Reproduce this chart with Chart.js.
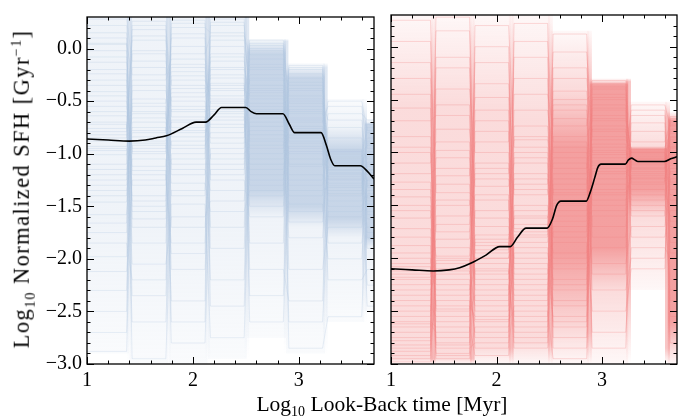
<!DOCTYPE html>
<html><head><meta charset="utf-8">
<script src="https://cdn.jsdelivr.net/npm/chart.js@4.4.1/dist/chart.umd.min.js"></script>
<style>
html,body{margin:0;padding:0;background:#fff;}
#wrap{position:relative;width:678px;height:416px;overflow:hidden;font-family:"Liberation Serif",serif;color:#000;}
canvas{position:absolute;top:0;}
#cL{left:0;} #cR{left:380px;}
.lab{position:absolute;white-space:nowrap;line-height:1;}
.lab sub,.lab sup{font-size:14px;line-height:0;}
#xlab{left:382px;top:394px;transform:translateX(-50%);font-size:21.5px;}
#ylab{left:22px;top:189px;transform:translate(-50%,-50%) rotate(-90deg);font-size:22.5px;letter-spacing:1.4px;}
</style></head>
<body><div id="wrap">
<canvas id="cL" width="380" height="416"></canvas>
<canvas id="cR" width="298" height="416"></canvas>
<div id="xlab" class="lab">Log<sub>10</sub> Look-Back time [Myr]</div>
<div id="ylab" class="lab">Log<sub>10</sub> Normalized SFH [Gyr<sup>−1</sup>]</div>
</div>
<script>
// ---------- data ----------
const binEdges = [1.0, 1.40, 1.77, 2.14, 2.51, 2.88, 3.25, 3.62, 3.71];

const xTickValues = [1, 2, 3];
const xTickLabels = ['1', '2', '3'];
const yTickValues = [-3.0, -2.5, -2.0, -1.5, -1.0, -0.5, 0.0];
const yTickLabels = ['−3.0', '−2.5', '−2.0', '−1.5', '−1.0', '−0.5', '0.0'];
const xMinorTicks = [1.2, 1.4, 1.6, 1.8, 2.2, 2.4, 2.6, 2.8, 3.2, 3.4, 3.6];
const yMinorTicks = [-2.9, -2.8, -2.7, -2.6, -2.4, -2.3, -2.2, -2.1, -1.9, -1.8, -1.7, -1.6,
  -1.4, -1.3, -1.2, -1.1, -0.9, -0.8, -0.7, -0.6, -0.4, -0.3, -0.2, -0.1, 0.1, 0.2];

// medians
const blueMedX = [1.00, 1.20, 1.40, 1.55, 1.65, 1.75, 1.90, 2.03, 2.12, 2.20, 2.27, 2.50, 2.55, 2.60, 2.85, 2.91, 2.96, 3.21, 3.26, 3.30, 3.34, 3.58, 3.65, 3.71];
const blueMedY = [-0.86, -0.87, -0.88, -0.87, -0.85, -0.83, -0.76, -0.70, -0.70, -0.63, -0.56, -0.56, -0.60, -0.62, -0.62, -0.72, -0.80, -0.80, -0.92, -1.05, -1.115, -1.115, -1.17, -1.24];
const redMedX = [1.00, 1.20, 1.40, 1.55, 1.65, 1.75, 1.90, 2.03, 2.13, 2.20, 2.28, 2.48, 2.53, 2.57, 2.61, 2.85, 2.89, 2.93, 2.96, 2.99, 3.22, 3.25, 3.28, 3.31, 3.34, 3.59, 3.65, 3.71];
const redMedY = [-2.10, -2.11, -2.12, -2.11, -2.09, -2.05, -1.97, -1.89, -1.89, -1.80, -1.715, -1.715, -1.63, -1.50, -1.46, -1.46, -1.37, -1.24, -1.14, -1.11, -1.11, -1.07, -1.053, -1.07, -1.085, -1.085, -1.06, -1.04];

// per-bin density envelopes
const blueOuterTop = [0.30, 0.30, 0.30, 0.30, 0.09, -0.14, -0.48, -0.67];
const blueCoreTop  = [0.30, 0.30, 0.30, 0.30, 0.07, -0.18, -0.75, -0.70];
const blueHeavyTop = [null, null, null, null, -0.05, -0.28, -0.96, -0.72];
const blueHeavyBot = [null, null, null, null, -1.35, -1.50, -1.62, -1.80];
const blueCoreBot  = [-1.60, -1.65, -1.65, -1.65, -1.60, -1.70, -1.80, -1.90];
const blueOuterBot = [-2.90, -3.00, -3.00, -2.95, -2.75, -2.90, -2.60, -2.50];

const redOuterTop = [0.30, 0.30, 0.30, 0.30, 0.15, -0.30, -0.52, -0.62];
const redCoreTop  = [-0.55, -0.55, -0.60, -0.70, -0.40, -0.33, -0.95, -0.66];
const redHeavyTop = [null, null, null, null, -0.95, -0.36, -0.97, -0.70];
const redHeavyBot = [null, null, null, null, -1.95, -1.90, -1.35, -2.60];
const redCoreBot  = [-2.95, -2.95, -2.85, -2.80, -2.70, -2.30, -1.60, -2.85];
const redOuterBot = [-3.00, -3.00, -3.00, -3.00, -3.00, -3.00, -2.30, -3.00];

// individual SFH draws: value of every draw in each time bin (index = draw)
const blueBins = [
  [0.22, -1.10, -0.45, -2.30, -0.70, 0.05, -1.35, -0.88, -0.20, -1.58, 0.28, -0.95, -0.60, -1.98, -0.30, -1.20,
   -0.79, 0.15, -1.46, -0.50, -2.70, -0.13, -1.01, -0.64, -1.75, -0.35, 0.10, -1.25, -0.85, -2.12, -0.41, -0.93,
   -0.08, -1.66, -0.72, -1.15, 0.04, -2.50, -0.55, -1.30, -0.24, -0.97, -1.85, -0.76, -0.02, -1.40, -2.88, -0.82],
  [-0.60, 0.18, -1.30, -0.90, -2.05, -0.25, -1.05, 0.26, -1.50, -0.70, -0.12, -2.60, -0.95, -0.40, -1.20, -0.80,
   0.08, -1.70, -0.55, -1.12, -0.30, -2.95, -0.84, -1.40, -0.05, -0.98, -1.62, -0.48, 0.12, -1.25, -2.35, -0.66,
   -1.00, -0.18, -1.85, -0.75, -1.45, 0.22, -0.88, -0.35, -1.55, -0.62, -2.20, -0.02, -1.16, -0.52, -0.92, -0.78],
  [-1.20, -0.35, 0.20, -0.80, -1.60, -0.10, -2.40, -0.65, 0.27, -0.95, -0.50, -1.35, -0.22, -0.75, -1.85, 0.02,
   -0.60, -1.05, -2.80, -0.42, -0.15, -1.48, -0.70, 0.14, -1.15, -0.30, -0.88, -2.10, -0.55, 0.24, -1.00, -0.78,
   -0.05, -1.70, -0.46, -1.28, -0.68, -2.60, 0.10, -0.92, -0.26, -1.40, -0.58, -0.84, -1.95, -0.18, -1.10, -0.38],
  [-0.20, -1.05, 0.15, -0.62, -1.45, -0.40, 0.28, -2.20, -0.75, -0.05, -0.90, -0.50, -1.25, 0.08, -0.33, -1.70,
   -0.58, 0.22, -1.15, -0.28, -0.68, -2.75, -0.12, -0.85, -1.35, -0.45, 0.02, -0.95, -0.55, -1.90, -0.18, -0.72,
   0.12, -1.00, -0.38, -1.55, -0.60, -0.25, -2.45, -0.80, -0.48, 0.25, -1.20, -0.65, -0.08, -0.52, -1.10, -0.35],
  [-0.95, 0.05, -0.40, -1.30, -0.62, -0.15, -2.10, -0.78, -0.25, -1.10, 0.08, -0.55, -1.60, -0.35, -0.88, -0.02,
   -1.20, -0.48, -0.70, -2.60, -0.10, -1.00, -0.58, -0.30, -1.40, -0.20, -0.82, 0.00, -1.85, -0.66, -0.45, -1.15,
   -0.06, -0.92, -0.52, -1.35, -0.28, -2.35, -0.74, -0.38, -1.05, -0.60, 0.03, -1.50, -0.86, -0.42, -0.18, -1.25],
  [-0.50, -1.20, -0.85, -0.20, -1.55, -0.70, -2.40, -0.95, -0.35, -1.05, -0.62, -1.40, -0.16, -0.88, -1.80, -0.45,
   -0.78, -1.12, -0.28, -0.98, -2.85, -0.55, -1.30, -0.66, -0.24, -1.00, -0.82, -1.65, -0.40, -0.74, -2.10, -0.58,
   -1.25, -0.32, -0.90, -0.48, -1.48, -0.68, -0.18, -1.10, -0.76, -2.60, -0.52, -0.93, -0.38, -1.35, -0.60, -0.83],
  [-1.05, -1.30, -0.98, -1.60, -1.12, -0.55, -1.20, -2.20, -1.00, -1.40, -1.08, -0.75, -1.15, -1.85, -0.97, -1.25,
   -1.10, -0.62, -1.35, -1.02, -2.55, -1.18, -0.99, -1.50, -1.06, -1.22, -0.50, -1.13, -1.45, -1.01, -1.70, -1.09,
   -0.85, -1.28, -1.04, -1.16, -2.00, -0.96, -1.38, -1.11, -1.03, -1.55, -0.68, -1.19, -1.07, -1.32, -0.98, -1.24],
  [-1.00, -1.45, -0.80, -1.25, -1.70, -0.95, -1.30, -2.10, -1.15, -0.72, -1.55, -1.20, -0.88, -1.38, -1.05, -1.90,
   -1.28, -0.68, -1.10, -1.62, -1.22, -2.45, -0.92, -1.35, -1.18, -1.50, -0.78, -1.26, -1.08, -1.80, -1.40, -0.98,
   -1.32, -1.12, -2.25, -0.85, -1.24, -1.58, -1.02, -1.42, -0.75, -1.30, -1.16, -1.75, -1.20, -0.90, -1.48, -1.23]
];
const redBins = [
  [-2.40, -0.85, -2.75, -1.50, 0.25, -2.20, -1.10, -2.95, -1.80, -2.55, -0.30, -2.15, -1.35, -2.88, -2.00, -0.70,
   -2.62, -1.62, -2.30, -0.45, -2.82, -1.95, -2.45, -1.20, -2.12, -0.58, -2.70, -1.72, -2.35, 0.05, -2.92, -1.00,
   -2.50, -1.88, -2.25, -1.42, -2.78, -0.15, -2.60, -2.05, -1.28, -2.85, -0.95, -2.18, -1.55, -2.65, -2.08, -2.98],
  [-1.30, -2.60, -0.20, -2.25, -1.75, -2.90, -0.90, -2.10, -2.45, -1.05, -2.80, 0.15, -2.00, -1.60, -2.35, -0.65,
   -2.70, -1.45, -2.15, -2.95, -0.40, -1.90, -2.55, -1.15, -2.05, -2.85, -0.78, -2.30, -1.68, -2.50, 0.28, -2.20,
   -1.22, -2.75, -0.55, -1.98, -2.40, -1.38, -2.65, -1.82, -2.92, -0.10, -2.12, -1.50, -2.48, -0.98, -2.82, -2.02],
  [-2.30, -0.80, -1.95, -2.70, -1.40, 0.20, -2.15, -1.10, -2.55, -1.70, -0.35, -2.05, -2.85, -1.25, -1.85, -2.40,
   -0.60, -2.20, -1.55, -2.65, -1.00, -2.00, 0.00, -2.50, -1.78, -2.80, -1.32, -2.10, -0.90, -2.35, -1.62, -2.75,
   -0.48, -1.92, -2.25, -1.15, -2.60, -1.45, -2.92, -0.15, -2.12, -1.88, -2.45, -0.70, -1.82, -2.58, -1.20, -2.00],
  [-1.20, -2.40, -0.10, -1.85, -2.70, -0.95, -1.60, -2.15, -0.75, -2.00, -1.40, -2.85, 0.22, -1.75, -2.30, -1.05,
   -2.55, -1.50, -0.45, -1.95, -2.65, -1.30, -2.10, -0.85, -1.68, -2.45, -1.10, -2.80, -0.30, -1.80, -2.25, -1.55,
   -2.05, -0.60, -2.60, -1.35, -1.90, -2.75, -1.00, -1.72, -2.35, -1.25, 0.05, -2.20, -1.62, -2.50, -0.88, -1.78],
  [-1.80, -0.60, -2.30, -1.20, 0.12, -1.55, -2.65, -0.95, -1.40, -2.05, -0.42, -1.70, -2.85, -1.05, -0.20, -2.45,
   -1.30, -1.95, -0.75, -2.20, -1.50, -0.05, -2.55, -1.15, -1.65, -0.50, -2.10, -1.35, -2.75, -0.85, -1.85, -1.45,
   -2.40, -1.00, -0.30, -1.60, -2.60, -1.25, -2.00, -0.68, -1.48, -2.25, -0.90, -1.75, -1.10, -2.95, -1.38, -0.55],
  [-0.60, -1.40, -0.95, -0.35, -1.80, -1.10, -0.50, -2.30, -1.25, -0.75, -1.00, -1.55, -0.40, -2.05, -0.88, -1.18,
   -0.65, -1.35, -0.32, -1.05, -2.70, -0.80, -1.60, -0.55, -1.15, -0.45, -1.90, -0.98, -1.30, -0.70, -2.50, -1.08,
   -0.38, -1.45, -0.85, -1.20, -0.58, -2.15, -0.92, -1.70, -1.02, -0.48, -1.50, -0.78, -2.85, -1.12, -0.68, -1.38],
  [-1.00, -1.20, -0.97, -1.50, -1.06, -0.60, -1.15, -2.00, -0.99, -1.30, -1.08, -0.80, -1.12, -1.70, -0.96, -1.25,
   -1.03, -0.55, -1.40, -1.05, -1.90, -1.10, -0.98, -1.60, -1.02, -1.18, -0.72, -1.09, -1.35, -1.01, -2.10, -1.07,
   -0.90, -1.22, -1.04, -1.14, -1.80, -0.95, -1.45, -1.11, -1.00, -1.28, -0.65, -1.16, -1.06, -1.55, -0.97, -1.24],
  [-0.80, -1.30, -0.70, -1.60, -1.00, -2.20, -0.90, -1.15, -1.45, -0.66, -1.05, -1.85, -0.85, -1.25, -2.55, -0.95,
   -1.10, -0.75, -1.50, -1.02, -2.00, -0.88, -1.35, -0.68, -1.20, -0.98, -1.70, -0.78, -2.40, -1.08, -0.92, -1.40,
   -0.72, -1.12, -2.80, -0.96, -1.55, -0.82, -1.18, -1.04, -1.95, -0.86, -1.28, -0.74, -1.06, -2.30, -0.94, -1.65]
];

// ---------- helpers ----------
const BLUE = a => `rgba(176,196,222,${a})`;
const RED = a => `rgba(240,128,128,${a})`;
const TRANS = 0.026;
const STRIP = 0.024;
const CLEAR = 'rgba(0,0,0,0)';

function drawPoints(bins, k) {
  const pts = [];
  const n = bins.length;
  for (let i = 0; i < n; i++) {
    const v = bins[i][k];
    const x0 = i === 0 ? binEdges[0] : binEdges[i] + TRANS;
    const x1 = i === n - 1 ? binEdges[n] : binEdges[i + 1] - TRANS;
    pts.push({x: x0, y: v}, {x: x1, y: v});
  }
  return pts;
}
function gradientFill(stops, top, bot, col, fallback) {
  return ctx => {
    const chart = ctx.chart;
    if (!chart.chartArea) return fallback;
    const ys = chart.scales.y;
    const p0 = ys.getPixelForValue(top), p1 = ys.getPixelForValue(bot);
    const g = chart.ctx.createLinearGradient(0, p0, 0, p1);
    let last = 0;
    stops.forEach(([v, a]) => {
      let f = (ys.getPixelForValue(v) - p0) / (p1 - p0);
      f = Math.min(1, Math.max(last, f));
      last = f;
      g.addColorStop(f, col(a));
    });
    return g;
  };
}
function rectPair(x0, x1, t, b, bg) {
  return [
    {data: [{x: x0, y: t}, {x: x1, y: t}], fill: '+1', backgroundColor: bg, borderColor: CLEAR, borderWidth: 0, pointRadius: 0, tension: 0},
    {data: [{x: x0, y: b}, {x: x1, y: b}], fill: false, borderColor: CLEAR, borderWidth: 0, pointRadius: 0, tension: 0}
  ];
}
function bandSets(p) {
  const out = [];
  for (let i = 0; i < binEdges.length - 1; i++) {
    const stops = [[p.outerTop[i], p.outerA], [p.coreTop[i], p.coreA]];
    if (p.heavyTop[i] !== null) stops.push([p.heavyTop[i], p.heavyA], [p.heavyBot[i], p.heavyA]);
    stops.push([p.coreBot[i], p.coreA], [p.outerBot[i], p.outerA]);
    out.push(...rectPair(binEdges[i], binEdges[i + 1], p.outerTop[i], p.outerBot[i],
      gradientFill(stops, p.outerTop[i], p.outerBot[i], p.col, p.col(p.coreA))));
  }
  return out;
}
function stripSets(p) {
  const out = [];
  for (let j = 1; j < binEdges.length - 1; j++) {
    const top = Math.max(p.outerTop[j - 1], p.outerTop[j]);
    const cTop = Math.max(p.coreTop[j - 1], p.coreTop[j]);
    const cBot = Math.min(p.coreBot[j - 1], p.coreBot[j]);
    const bot = Math.min(p.outerBot[j - 1], p.outerBot[j]);
    const stops = [[top, p.stripA * 0.12], [cTop, p.stripA], [cBot, p.stripA], [bot, 0]];
    out.push(...rectPair(binEdges[j] - STRIP, binEdges[j] + STRIP, top, bot,
      gradientFill(stops, top, bot, p.col, p.col(p.stripA))));
  }
  return out;
}
function buildDatasets(p) {
  const ds = [];
  ds.push({data: p.medX.map((x, i) => ({x, y: p.medY[i]})), borderColor: '#000', borderWidth: 1.6,
    pointRadius: 0, fill: false, cubicInterpolationMode: 'monotone'});
  for (let k = 0; k < p.bins[0].length; k++) {
    ds.push({data: drawPoints(p.bins, k), borderColor: p.col(p.lineA), borderWidth: 1,
      pointRadius: 0, fill: false, tension: 0});
  }
  ds.push(...stripSets(p));
  ds.push(...bandSets(p));
  return ds;
}

const framePlugin = {
  id: 'frame',
  afterDraw(chart) {
    const {ctx, chartArea: a, scales: {x, y}} = chart;
    ctx.save();
    ctx.strokeStyle = '#000';
    ctx.lineWidth = 1;
    const tick = (px, len, vertical) => {
      ctx.beginPath();
      if (vertical) {
        ctx.moveTo(px, a.bottom); ctx.lineTo(px, a.bottom - len);
        ctx.moveTo(px, a.top); ctx.lineTo(px, a.top + len);
      } else {
        ctx.moveTo(a.left, px); ctx.lineTo(a.left + len, px);
        ctx.moveTo(a.right, px); ctx.lineTo(a.right - len, px);
      }
      ctx.stroke();
    };
    xTickValues.forEach(v => tick(Math.round(x.getPixelForValue(v)) + 0.5, 7, true));
    xMinorTicks.forEach(v => tick(Math.round(x.getPixelForValue(v)) + 0.5, 3.5, true));
    yTickValues.forEach(v => tick(Math.round(y.getPixelForValue(v)) + 0.5, 7, false));
    yMinorTicks.forEach(v => tick(Math.round(y.getPixelForValue(v)) + 0.5, 3.5, false));
    ctx.lineWidth = 1.3;
    ctx.strokeRect(a.left, a.top, a.right - a.left, a.bottom - a.top);
    ctx.restore();
  }
};

function makeChart(id, p, showY, yWidth, padRight) {
  return new Chart(document.getElementById(id), {
    type: 'line',
    data: {datasets: buildDatasets(p)},
    plugins: [framePlugin],
    options: {
      responsive: false, animation: false, events: [],
      layout: {padding: {left: 0, right: padRight, top: 15, bottom: 0}},
      plugins: {legend: {display: false}, tooltip: {enabled: false}},
      scales: {
        x: {type: 'linear', min: 1.0, max: 3.71,
          grid: {display: false, drawTicks: false}, border: {display: false},
          afterBuildTicks: s => { s.ticks = xTickValues.map(v => ({value: v})); },
          afterFit: s => { s.height = 52; },
          ticks: {padding: 5, color: '#000', maxRotation: 0, autoSkip: false,
            font: {family: 'Liberation Serif', size: 20},
            callback: (v, i) => xTickLabels[i]}
        },
        y: {type: 'linear', min: -3.0, max: 0.3,
          grid: {display: false, drawTicks: false}, border: {display: false},
          afterBuildTicks: s => { s.ticks = yTickValues.map(v => ({value: v})); },
          afterFit: s => { s.width = yWidth; },
          ticks: {display: showY, padding: 5, color: '#000', autoSkip: false,
            font: {family: 'Liberation Serif', size: 20},
            callback: (v, i) => yTickLabels[i]}
        }
      }
    }
  });
}

makeChart('cL', {medX: blueMedX, medY: blueMedY, bins: blueBins, col: BLUE,
  outerTop: blueOuterTop, outerBot: blueOuterBot, coreTop: blueCoreTop, coreBot: blueCoreBot,
  heavyTop: blueHeavyTop, heavyBot: blueHeavyBot,
  lineA: 0.28, heavyA: 0.7, coreA: 0.2, outerA: 0.07, stripA: 0.4}, true, 87, 6);
makeChart('cR', {medX: redMedX, medY: redMedY, bins: redBins, col: RED,
  outerTop: redOuterTop, outerBot: redOuterBot, coreTop: redCoreTop, coreBot: redCoreBot,
  heavyTop: redHeavyTop, heavyBot: redHeavyBot,
  lineA: 0.28, heavyA: 0.75, coreA: 0.28, outerA: 0.06, stripA: 0.45}, false, 11, 1);
</script>
</body></html>
